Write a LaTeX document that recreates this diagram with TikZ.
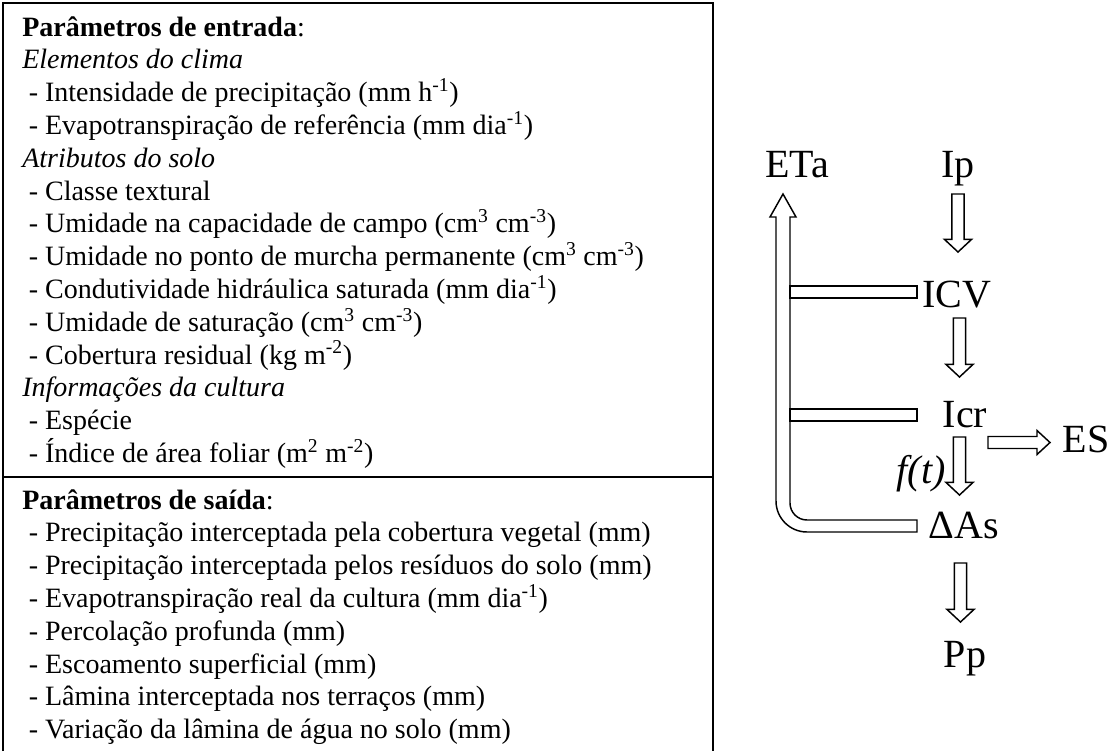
\documentclass[tikz,border=0pt]{standalone}
\usepackage{fontspec}
\setmainfont{Liberation Serif}
\usetikzlibrary{calc}
\newcommand\downblk[2]{\draw[blk] let \p1=(#1), \p2=(#2) in
  ({\x1-4.6pt},{\y1}) -- ({\x1+4.6pt},{\y1}) -- ({\x1+4.6pt},{\y2+9.5pt}) --
  ({\x1+10.2pt},{\y2+9.5pt}) -- ({\x1},{\y2}) -- ({\x1-10.2pt},{\y2+9.5pt}) --
  ({\x1-4.6pt},{\y2+9.5pt}) -- cycle;}
\newcommand\rightblk[2]{\draw[blk] let \p1=(#1), \p2=(#2) in
  ({\x1},{\y1+4.5pt}) -- ({\x2-9.75pt},{\y1+4.5pt}) -- ({\x2-9.75pt},{\y1+9pt}) --
  ({\x2},{\y1}) -- ({\x2-9.75pt},{\y1-9pt}) -- ({\x2-9.75pt},{\y1-4.5pt}) --
  ({\x1},{\y1-4.5pt}) -- cycle;}
\begin{document}
\begin{tikzpicture}[x=0.75pt,y=-0.75pt,
  txt/.style={anchor=base west, inner sep=0pt, font=\fontsize{21}{24}\selectfont},
  lbl/.style={anchor=base, inner sep=0pt, font=\fontsize{30}{36}\selectfont},
  frame/.style={draw=black, line width=1.1pt},
  blk/.style={draw=black, fill=white, line width=1.1pt, line join=miter}]
\useasboundingbox (0,0) rectangle (1115,751);
% frame
\draw[frame] (3,751) -- (3,3) -- (713,3) -- (713,751);
\draw[frame] (3,477) -- (713,477);
% input parameters
\node[txt] (i1) at (22,36) {\textbf{Parâmetros de entrada}:};
\node[txt] (i2) at (22,68.8) {\itshape Elementos do clima};
\node[txt] (i3) at (28.5,101.6) {- Intensidade de precipitação (mm h\textsuperscript{-1})};
\node[txt] (i4) at (28.5,134.4) {- Evapotranspiração de referência (mm dia\textsuperscript{-1})};
\node[txt] (i5) at (22,167.2) {\itshape Atributos do solo};
\node[txt] (i6) at (28.5,200) {- Classe textural};
\node[txt] (i7) at (28.5,232.8) {- Umidade na capacidade de campo (cm\textsuperscript{3} cm\textsuperscript{-3})};
\node[txt] (i8) at (28.5,265.6) {- Umidade no ponto de murcha permanente (cm\textsuperscript{3} cm\textsuperscript{-3})};
\node[txt] (i9) at (28.5,298.4) {- Condutividade hidráulica saturada (mm dia\textsuperscript{-1})};
\node[txt] (i10) at (28.5,331.2) {- Umidade de saturação (cm\textsuperscript{3} cm\textsuperscript{-3})};
\node[txt] (i11) at (28.5,364) {- Cobertura residual (kg m\textsuperscript{-2})};
\node[txt] (i12) at (22,396.8) {\itshape Informações da cultura};
\node[txt] (i13) at (28.5,429.6) {- Espécie};
\node[txt] (i14) at (28.5,462.4) {- Índice de área foliar (m\textsuperscript{2} m\textsuperscript{-2})};
% output parameters
\node[txt] (o1) at (22,509) {\textbf{Parâmetros de saída}:};
\node[txt] (o2) at (28.5,541.8) {- Precipitação interceptada pela cobertura vegetal (mm)};
\node[txt] (o3) at (28.5,574.6) {- Precipitação interceptada pelos resíduos do solo (mm)};
\node[txt] (o4) at (28.5,607.4) {- Evapotranspiração real da cultura (mm dia\textsuperscript{-1})};
\node[txt] (o5) at (28.5,640.2) {- Percolação profunda (mm)};
\node[txt] (o6) at (28.5,673) {- Escoamento superficial (mm)};
\node[txt] (o7) at (28.5,705.8) {- Lâmina interceptada nos terraços (mm)};
\node[txt] (o8) at (28.5,738.6) {- Variação da lâmina de água no solo (mm)};
% diagram labels
\node[lbl] (ETa) at (797,177) {ETa};
\node[lbl] (Ip) at (958,177) {Ip};
\node[lbl] (ICV) at (957,307) {ICV};
\node[lbl] (Icr) at (965,427) {Icr};
\node[lbl] (ES) at (1086,452) {ES};
\node[lbl] (dAs) at (964,538) {ΔAs};
\node[lbl] (Pp) at (965,667) {Pp};
% vertical flow arrows
\downblk{$(Ip.base)+(0,17)$}{$(ICV.base)+(0,-55)$}
\downblk{$(ICV.base)+(2.5,11)$}{$(Icr.base)+(0,-50)$}
\downblk{$(Icr.base)+(-5.5,10)$}{$(dAs.base)+(0,-43)$}
\downblk{$(dAs.base)+(-3.5,25)$}{$(Pp.base)+(0,-45)$}
% Icr -> ES
\rightblk{$(Icr.base)+(23,15.5)$}{$(ES.base)+(-36,-9.5)$}
% return arrow to ETa
\coordinate (tipETa) at ($(ETa.base)+(-14,17)$);
\draw[blk] (tipETa) -- (796,217) -- (790,217) -- (790,503)
  .. controls (790,512.4) and (797.6,520) .. (807,520) -- (917,520) -- (917,532) -- (807,532)
  .. controls (789.9,532) and (776,518.1) .. (776,501) -- (776,217) -- (770,217) -- cycle;
\draw[blk] (790,286) rectangle (917,298);
\draw[blk] (790,409) rectangle (917,421);
\node[lbl, font=\fontsize{30}{36}\selectfont\itshape] (ft) at (921,483) {f(t)};
\end{tikzpicture}
\end{document}
